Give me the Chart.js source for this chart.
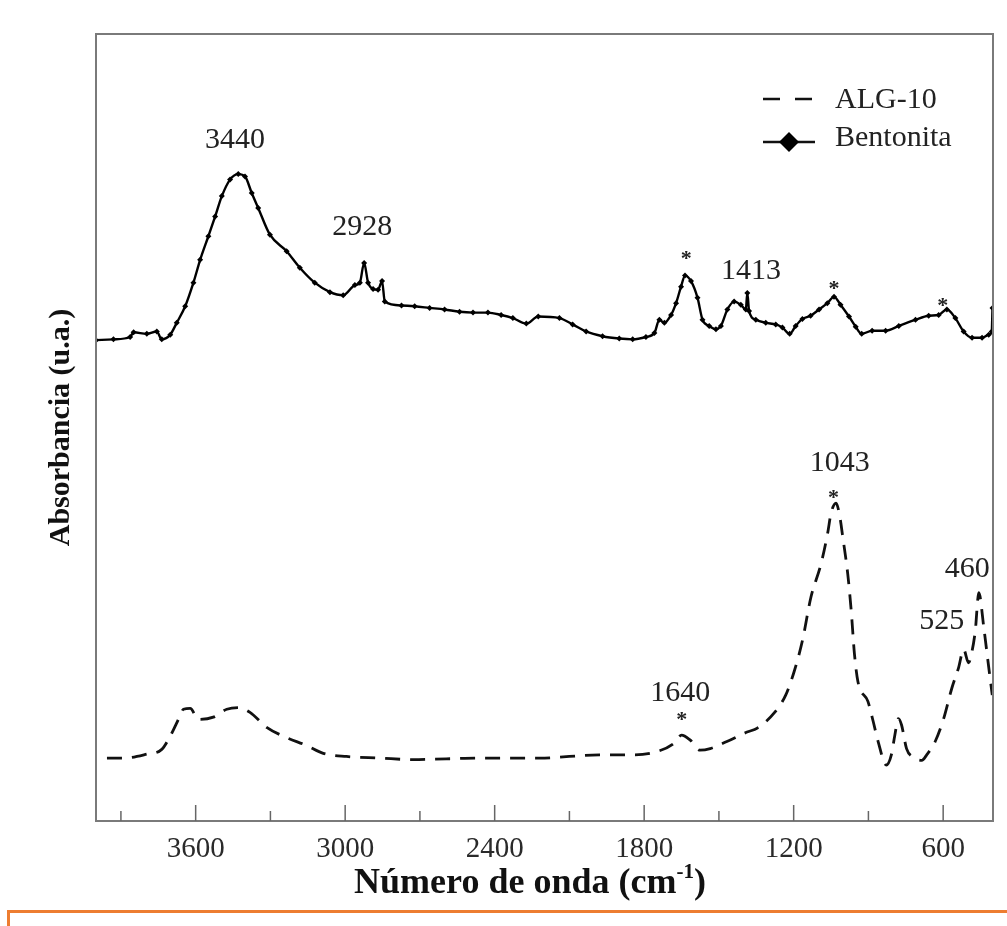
<!DOCTYPE html>
<html>
<head>
<meta charset="utf-8">
<script src="https://cdn.jsdelivr.net/npm/chart.js@4.4.1/dist/chart.umd.min.js"></script>
<style>
  html, body { margin: 0; padding: 0; background: #fff; }
  #wrap { position: relative; width: 1007px; height: 926px; }
  #note { position: absolute; left: 7px; top: 910px; width: 1000px; height: 20px;
          border-top: 3px solid #ED7D31; border-left: 3px solid #ED7D31; box-sizing: border-box; }
</style>
</head>
<body>
<div id="wrap">
  <canvas id="chart" width="1007" height="926"></canvas>
  <div id="note"></div>
</div>
<script>
// wavenumbers (cm-1) and absorbance (a.u.)
const bentonitaWn = [4000, 3930, 3863, 3849, 3796, 3756, 3736, 3702, 3676, 3642, 3609, 3582, 3549, 3522, 3495,
  3462, 3429, 3402, 3375, 3349, 3302, 3235, 3182, 3122, 3061, 3008, 2961, 2941, 2924, 2908, 2888, 2868, 2852,
  2841, 2774, 2721, 2661, 2601, 2541, 2487, 2427, 2374, 2327, 2273, 2225, 2140, 2087, 2033, 1967, 1900, 1846,
  1793, 1759, 1739, 1719, 1692, 1672, 1652, 1636, 1612, 1586, 1566, 1539, 1512, 1492, 1466, 1439, 1412, 1392,
  1386, 1379, 1352, 1312, 1272, 1245, 1216, 1192, 1165, 1132, 1098, 1065, 1038, 1012, 978, 951, 927, 885, 831,
  778, 711, 658, 618, 585, 551, 518, 484, 444, 417, 405, 402];
const bentonitaAbs = [0.611, 0.612, 0.615, 0.621, 0.619, 0.622, 0.612, 0.618, 0.633, 0.654, 0.684, 0.713, 0.743, 0.768, 0.794,
  0.815, 0.822, 0.819, 0.798, 0.779, 0.745, 0.724, 0.703, 0.684, 0.672, 0.668, 0.681, 0.684, 0.709, 0.684, 0.676, 0.675, 0.686,
  0.660, 0.655, 0.654, 0.652, 0.650, 0.647, 0.646, 0.646, 0.643, 0.639, 0.632, 0.641, 0.639, 0.631, 0.622, 0.616, 0.613, 0.612,
  0.615, 0.620, 0.637, 0.633, 0.643, 0.658, 0.679, 0.693, 0.686, 0.665, 0.637, 0.629, 0.625, 0.629, 0.650, 0.660, 0.656, 0.650,
  0.671, 0.648, 0.637, 0.633, 0.631, 0.627, 0.619, 0.629, 0.638, 0.642, 0.650, 0.658, 0.666, 0.656, 0.641, 0.628, 0.619, 0.623, 0.623,
  0.629, 0.637, 0.642, 0.643, 0.650, 0.639, 0.622, 0.614, 0.614, 0.618, 0.622, 0.652];

const algWn = [3956, 3889, 3796, 3736, 3702, 3662, 3649, 3622, 3589, 3529, 3475, 3429, 3382, 3315, 3235, 3155, 3088,
  2995, 2861, 2728, 2594, 2460, 2327, 2220, 1980, 1845, 1751, 1683, 1650, 1616, 1576, 1535, 1468, 1387, 1346, 1279,
  1232, 1198, 1165, 1131, 1090, 1064, 1050, 1030, 1016, 1003, 983, 969, 956, 942, 902, 882, 861, 828, 808, 794, 780,
  767, 747, 720, 686, 666, 632, 598, 565, 538, 518, 498, 484, 471, 457, 437, 417, 403];
const algAbs = [0.080, 0.080, 0.085, 0.091, 0.108, 0.134, 0.142, 0.143, 0.129, 0.132, 0.142, 0.144, 0.138, 0.119, 0.106, 0.096, 0.086,
  0.082, 0.080, 0.078, 0.079, 0.080, 0.080, 0.080, 0.084, 0.084, 0.088, 0.098, 0.109, 0.103, 0.090, 0.092, 0.101, 0.113, 0.118, 0.137,
  0.160, 0.190, 0.229, 0.284, 0.327, 0.365, 0.391, 0.404, 0.389, 0.361, 0.314, 0.267, 0.212, 0.177, 0.152, 0.128, 0.101, 0.071, 0.084, 0.109, 0.130,
  0.122, 0.092, 0.081, 0.077, 0.084, 0.101, 0.130, 0.169, 0.195, 0.218, 0.201, 0.216, 0.242, 0.290, 0.246, 0.195, 0.160];

// x axis ticks: all tick marks, and the ones that carry a label
const xTicks = [600, 900, 1200, 1500, 1800, 2100, 2400, 2700, 3000, 3300, 3600, 3900];
const xTickLabels = ['600', '1200', '1800', '2400', '3000', '3600'];

// peak annotations: label, wavenumber, absorbance of the label centre
const peakText = ['3440', '2928', '1413', '1043', '1640', '525', '460'];
const peakWn = [3442, 2931, 1371, 1015, 1655, 606, 503];
const peakAbs = [0.865, 0.754, 0.699, 0.455, 0.162, 0.254, 0.320];

// asterisks marking bands
const starWn = [1631, 1038, 602, 1040, 1649];
const starAbs = [0.722, 0.684, 0.662, 0.418, 0.136];

const toPoints = (xs, ys) => xs.map((v, i) => ({ x: v, y: ys[i] }));
const serif = '"Liberation Serif", "Times New Roman", serif';

const decor = {
  id: 'decor',
  afterDraw(chart) {
    const { ctx, chartArea: a, scales: { x, y } } = chart;
    ctx.save();

    // frame
    ctx.strokeStyle = '#7a7a7a';
    ctx.lineWidth = 2;
    ctx.strokeRect(a.left, a.top, a.right - a.left, a.bottom - a.top);

    // inward tick marks, long where labelled
    ctx.strokeStyle = '#666';
    ctx.lineWidth = 1.5;
    x.ticks.forEach(t => {
      const px = x.getPixelForValue(t.value);
      const len = xTickLabels.includes(String(t.value)) ? 16 : 10;
      ctx.beginPath();
      ctx.moveTo(px, a.bottom);
      ctx.lineTo(px, a.bottom - len);
      ctx.stroke();
    });

    // peak labels
    ctx.fillStyle = '#222';
    ctx.font = '30px ' + serif;
    ctx.textAlign = 'center';
    ctx.textBaseline = 'middle';
    peakText.forEach((s, i) => {
      ctx.fillText(s, x.getPixelForValue(peakWn[i]), y.getPixelForValue(peakAbs[i]));
    });

    // asterisks
    ctx.font = 'bold 22px ' + serif;
    ctx.textBaseline = 'alphabetic';
    starWn.forEach((w, i) => {
      ctx.fillText('*', x.getPixelForValue(w), y.getPixelForValue(starAbs[i]) + 12);
    });

    // legend
    const ds = chart.data.datasets;
    ctx.strokeStyle = '#111';
    ctx.lineWidth = 2.6;
    ctx.setLineDash([17, 15]);
    ctx.beginPath();
    ctx.moveTo(763, 99);
    ctx.lineTo(812, 99);
    ctx.stroke();
    ctx.setLineDash([]);
    ctx.beginPath();
    ctx.moveTo(763, 142);
    ctx.lineTo(815, 142);
    ctx.stroke();
    ctx.fillStyle = '#000';
    ctx.beginPath();
    ctx.moveTo(789, 132);
    ctx.lineTo(799, 142);
    ctx.lineTo(789, 152);
    ctx.lineTo(779, 142);
    ctx.closePath();
    ctx.fill();
    ctx.fillStyle = '#222';
    ctx.font = '30px ' + serif;
    ctx.textAlign = 'left';
    ctx.fillText(ds[0].label, 835, 108);
    ctx.fillText(ds[1].label, 835, 146);

    // x axis title with superscript
    const main = 'Número de onda (cm', sup = '-1', end = ')';
    const fMain = 'bold 36px ' + serif, fSup = 'bold 21px ' + serif;
    ctx.font = fMain;
    const w1 = ctx.measureText(main).width, w3 = ctx.measureText(end).width;
    ctx.font = fSup;
    const w2 = ctx.measureText(sup).width;
    let tx = 530 - (w1 + w2 + w3) / 2;
    const base = 893;
    ctx.fillStyle = '#111';
    ctx.font = fMain;
    ctx.fillText(main, tx, base);
    tx += w1;
    ctx.font = fSup;
    ctx.fillText(sup, tx, base - 15);
    tx += w2;
    ctx.font = fMain;
    ctx.fillText(end, tx, base);

    ctx.restore();
  }
};

new Chart(document.getElementById('chart'), {
  type: 'line',
  data: {
    datasets: [
      {
        label: 'ALG-10',
        data: toPoints(algWn, algAbs),
        borderColor: '#111',
        borderWidth: 2.8,
        borderDash: [15, 10],
        pointRadius: 0,
        cubicInterpolationMode: 'monotone'
      },
      {
        label: 'Bentonita',
        data: toPoints(bentonitaWn, bentonitaAbs),
        borderColor: '#000',
        borderWidth: 2.4,
        pointStyle: 'rectRot',
        pointRadius: 3,
        pointBackgroundColor: '#000',
        pointBorderColor: '#000',
        pointBorderWidth: 0,
        cubicInterpolationMode: 'monotone'
      }
    ]
  },
  options: {
    responsive: false,
    animation: false,
    layout: { padding: { top: 34, right: 14, left: 0, bottom: 0 } },
    plugins: { legend: { display: false }, tooltip: { enabled: false } },
    scales: {
      x: {
        type: 'linear',
        min: 400,
        max: 4000,
        reverse: true,
        afterBuildTicks: s => { s.ticks = xTicks.map(v => ({ value: v })); },
        afterFit: s => { s.height = 105; },
        grid: { display: false, drawTicks: false },
        border: { display: false },
        ticks: {
          autoSkip: false,
          maxRotation: 0,
          padding: 11,
          color: '#2a2a2a',
          font: { family: serif, size: 29 },
          callback: v => (xTickLabels.includes(String(v)) ? String(v) : '')
        }
      },
      y: {
        min: 0,
        max: 1,
        afterFit: s => { s.width = 96; },
        grid: { display: false },
        border: { display: false },
        ticks: { display: false },
        title: {
          display: true,
          text: 'Absorbancia (u.a.)',
          color: '#111',
          padding: { top: 43 },
          font: { family: serif, size: 30, weight: 'bold' }
        }
      }
    }
  },
  plugins: [decor]
});
</script>
</body>
</html>
